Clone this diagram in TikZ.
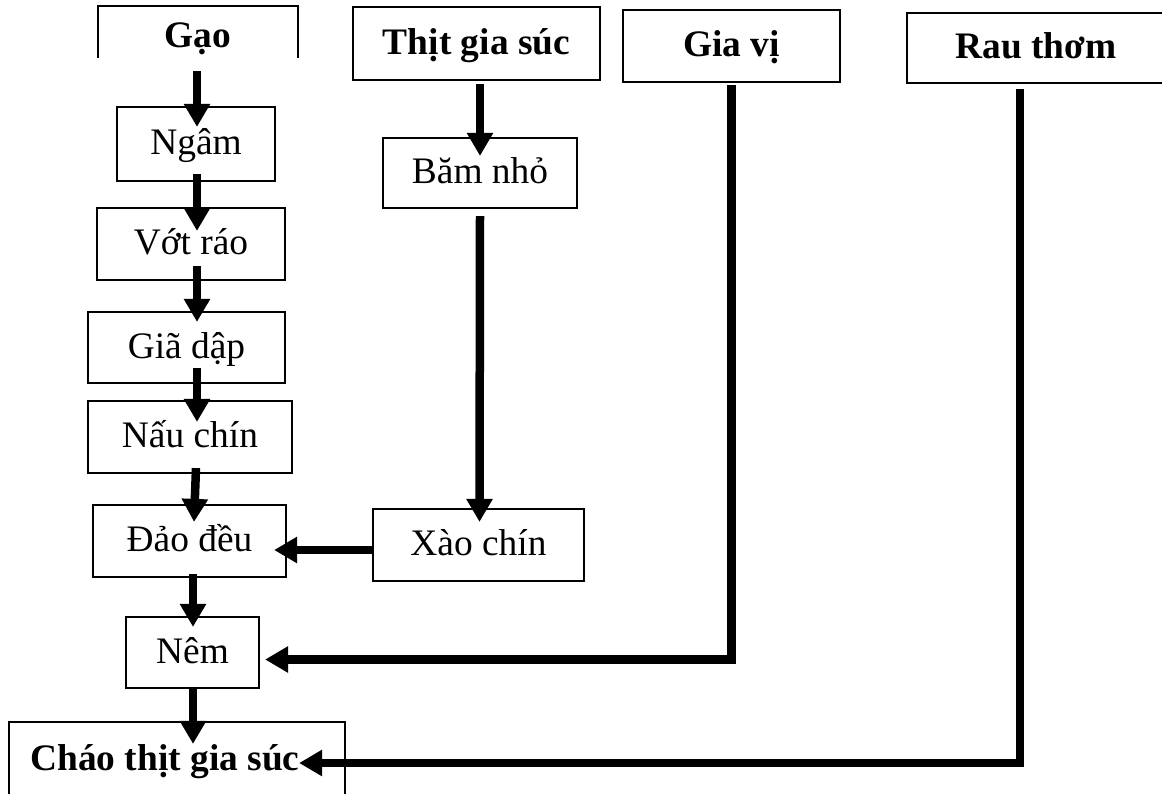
\documentclass[tikz,border=0pt]{standalone}
\usepackage{fontspec}
\setmainfont{Liberation Serif}
\usepackage{tikz}
\usetikzlibrary{arrows.meta}
\tikzstyle{process} = [rectangle, minimum height=36pt, text centered, draw=black, line width=1.1pt, inner sep=0pt, text height=12.5pt, text depth=2pt, font=\fontsize{18.7}{22}\selectfont]
\tikzstyle{source} = [process, font=\fontsize{18.7}{22}\selectfont\bfseries]
\tikzstyle{openbox} = [draw=black, line width=1.1pt]
\tikzstyle{arrow} = [line width=4.25pt, -{Triangle[width=12.5pt,length=11.5pt]}]

\begin{document}
\begin{tikzpicture}[x=0.5pt, y=-0.5pt]
    \useasboundingbox (0,0) rectangle (1162,793);

    % inputs
    \node (gao) [source, draw=none, minimum width=99pt, minimum height=25pt, text height=17pt] at (198,32) {Gạo};
    \draw[openbox] (gao.south west) |- (gao.north east) -- (gao.south east);

    \node (thit) [source, minimum width=123.5pt, minimum height=36.5pt] at (476.5,43.5) {Thịt gia súc};
    \node (giavi) [source, minimum width=108.5pt] at (731.5,46) {Gia vị};
    \node (raut) [source, minimum width=129pt, minimum height=35pt] at (1036,48) {Rau thơm};

    % rice steps
    \node (ngam) [process, minimum width=79pt, minimum height=37pt] at (196,144) {Ngâm};
    \node (votrao) [process, minimum width=94pt] at (191,244) {Vớt ráo};
    \node (giadap) [process, minimum width=98.5pt, minimum height=35.5pt] at (186.5,347.5) {Giã dập};
    \node (nauchin) [process, minimum width=102pt] at (190,437) {Nấu chín};
    \node (daodeu) [process, minimum width=96.5pt] at (189.5,541) {Đảo đều};
    \node (nem) [process, minimum width=66.5pt, minimum height=35.5pt] at (192.5,652.5) {Nêm};

    % meat steps
    \node (bam) [process, minimum width=97pt, minimum height=35pt] at (480,173) {Băm nhỏ};
    \node (xao) [process, minimum width=105.5pt] at (478.5,545) {Xào chín};

    % product
    \node (chao) [source, draw=none, minimum width=167pt, minimum height=35pt, text height=14pt] at (177,758) {Cháo thịt gia súc\hspace*{12pt}};
    \draw[openbox] (chao.south west) |- (chao.north east) -- (chao.south east);

    \draw[arrow] ([xshift=-0.5pt,yshift=-6.5pt]gao.south) -- ([xshift=0.5pt,yshift=-10.5pt]ngam.north);
    \draw[arrow] ([xshift=0.5pt,yshift=4pt]ngam.south) -- ([xshift=3pt,yshift=-12pt]votrao.north);
    \draw[arrow] ([xshift=3pt,yshift=7.5pt]votrao.south) -- ([xshift=5.25pt,yshift=-5.5pt]giadap.north);
    \draw[arrow] ([xshift=5.25pt,yshift=8pt]giadap.south) -- ([xshift=3.5pt,yshift=-11pt]nauchin.north);
    \draw[arrow] ([xshift=3pt,yshift=3pt]nauchin.south) -- ([xshift=2.25pt,yshift=-9pt]daodeu.north);
    \draw[arrow] ([xshift=1.75pt,yshift=2pt]daodeu.south) -- ([xshift=0.25pt,yshift=-5.5pt]nem.north);
    \draw[arrow] ([xshift=0.25pt]nem.south) -- ([xshift=8pt,yshift=-11pt]chao.north);

    \draw[arrow] ([xshift=1.75pt,yshift=-1.5pt]thit.south) -- ([yshift=-9.5pt]bam.north);
    \draw[arrow] ([yshift=-3.5pt]bam.south) -- ([xshift=0.5pt,yshift=-7pt]xao.north);
    \draw[arrow] ([yshift=-2.5pt]xao.west) -- ([xshift=-6.5pt,yshift=-4.5pt]daodeu.east);

    \draw[arrow] ([yshift=-1pt]giavi.south) |- ([xshift=2.5pt,yshift=-3.5pt]nem.east);
    \draw[arrow] ([xshift=-8pt,yshift=-2.5pt]raut.south) |- ([xshift=-23pt,yshift=-2.5pt]chao.east);

\end{tikzpicture}
\end{document}
